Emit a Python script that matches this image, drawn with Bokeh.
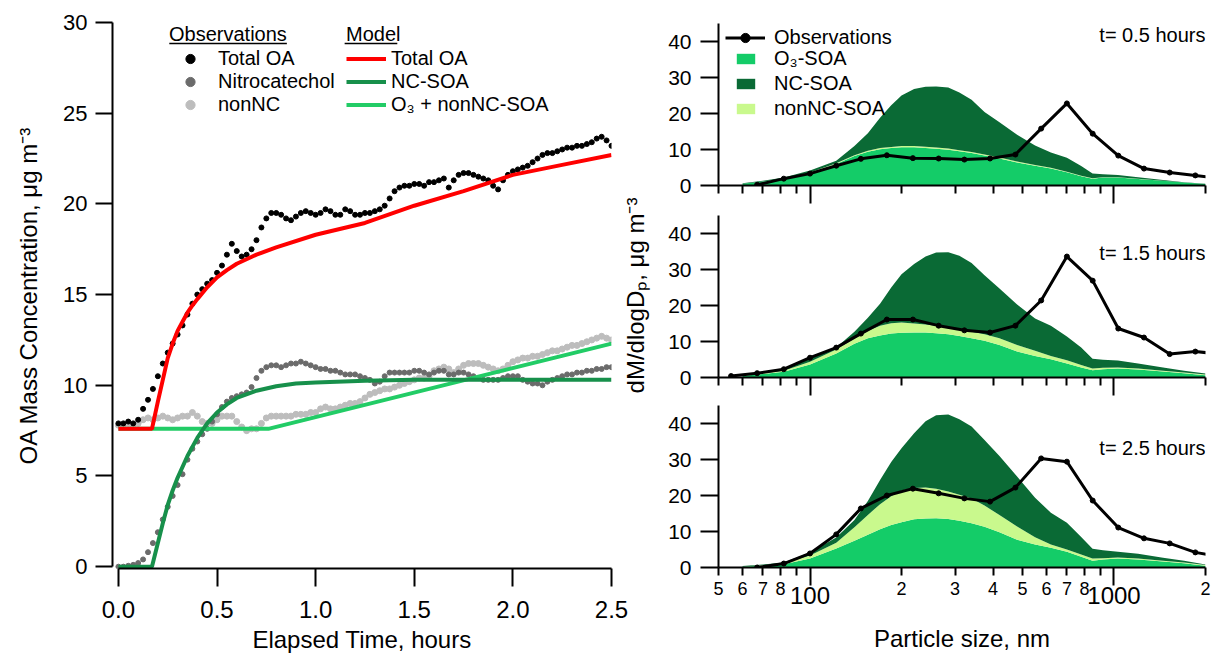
import math
from bokeh.plotting import figure
from bokeh.models import (ColumnDataSource, Range1d, FixedTicker, LogAxis, LinearAxis, Legend,
                          LegendItem, Label, BoxAnnotation, NumeralTickFormatter)
from bokeh.layouts import row, column
from bokeh.embed import file_html
from bokeh.resources import INLINE

FONT = "Liberation Sans"

# ---------------- Left panel: OA time series ----------------
obs_time = [0.000, 0.025, 0.050, 0.075, 0.100, 0.125, 0.150, 0.175, 0.200, 0.225,
            0.250, 0.275, 0.300, 0.325, 0.350, 0.375, 0.400, 0.425, 0.450, 0.475,
            0.500, 0.525, 0.550, 0.575, 0.600, 0.625, 0.650, 0.675, 0.700, 0.725,
            0.750, 0.775, 0.800, 0.825, 0.850, 0.875, 0.900, 0.925, 0.950, 0.975,
            1.000, 1.025, 1.050, 1.075, 1.100, 1.125, 1.150, 1.175, 1.200, 1.225,
            1.250, 1.275, 1.300, 1.325, 1.350, 1.375, 1.400, 1.425, 1.450, 1.475,
            1.500, 1.525, 1.550, 1.575, 1.600, 1.625, 1.650, 1.675, 1.700, 1.725,
            1.750, 1.775, 1.800, 1.825, 1.850, 1.875, 1.900, 1.925, 1.950, 1.975,
            2.000, 2.025, 2.050, 2.075, 2.100, 2.125, 2.150, 2.175, 2.200, 2.225,
            2.250, 2.275, 2.300, 2.325, 2.350, 2.375, 2.400, 2.425, 2.450, 2.475,
            2.500]
obs_total_oa = [7.9, 7.9, 8.0, 7.9, 8.1, 8.7, 9.2, 9.8, 10.5, 11.2,
                11.8, 12.3, 12.8, 13.3, 13.9, 14.5, 15.0, 15.3, 15.6, 15.8,
                16.2, 16.6, 17.2, 17.8, 17.4, 17.1, 17.2, 17.5, 18.0, 18.7,
                19.2, 19.5, 19.5, 19.4, 19.2, 19.1, 19.3, 19.5, 19.6, 19.5,
                19.4, 19.5, 19.7, 19.6, 19.4, 19.4, 19.7, 19.6, 19.4, 19.4,
                19.5, 19.5, 19.6, 19.7, 19.9, 20.3, 20.7, 20.9, 21.0, 21.0,
                21.1, 21.1, 21.0, 21.2, 21.2, 21.3, 21.4, 20.9, 21.3, 21.6,
                21.7, 21.7, 21.6, 21.5, 21.4, 21.3, 21.0, 20.8, 21.3, 21.6,
                21.8, 21.9, 22.0, 22.1, 22.3, 22.5, 22.7, 22.8, 22.8, 22.9,
                23.0, 23.1, 23.1, 23.2, 23.2, 23.3, 23.4, 23.6, 23.7, 23.5,
                23.2]
obs_nitrocatechol = [0.0, 0.0, 0.05, 0.1, 0.2, 0.4, 0.8, 1.3, 1.9, 2.6,
                     3.3, 3.9, 4.5, 5.1, 5.9, 6.5, 6.9, 7.3, 7.6, 8.0,
                     8.4, 8.8, 9.1, 9.3, 9.4, 9.5, 9.6, 9.9, 10.4, 10.8,
                     11.0, 11.1, 11.1, 11.0, 11.1, 11.2, 11.2, 11.3, 11.2, 11.1,
                     11.0, 10.9, 10.9, 10.8, 10.8, 10.7, 10.6, 10.6, 10.6, 10.5,
                     10.4, 10.3, 10.1, 10.2, 10.5, 10.7, 10.7, 10.7, 10.7, 10.7,
                     10.8, 10.8, 10.7, 10.6, 10.7, 10.8, 10.8, 10.6, 10.6, 10.7,
                     10.7, 10.6, 10.5, 10.4, 10.3, 10.3, 10.3, 10.3, 10.4, 10.5,
                     10.5, 10.5, 10.3, 10.2, 10.1, 10.1, 10.0, 10.2, 10.3, 10.4,
                     10.5, 10.6, 10.6, 10.7, 10.7, 10.8, 10.8, 10.9, 10.9, 11.0,
                     11.0]
obs_nonnc = [7.8, 7.8, 7.9, 7.8, 7.9, 8.1, 8.2, 8.1, 8.2, 8.3,
             8.2, 8.1, 8.2, 8.3, 8.3, 8.5, 8.3, 8.0, 7.9, 7.9,
             8.1, 8.3, 8.3, 8.3, 8.0, 7.7, 7.5, 7.6, 7.6, 7.9,
             8.2, 8.3, 8.3, 8.3, 8.3, 8.3, 8.4, 8.4, 8.4, 8.5,
             8.5, 8.7, 8.8, 8.7, 8.7, 8.8, 8.9, 9.0, 9.0, 9.1,
             9.3, 9.5, 9.6, 9.7, 9.8, 9.8, 9.9, 10.0, 10.1, 10.2,
             10.3, 10.4, 10.4, 10.5, 10.8, 10.9, 11.0, 10.9, 10.7, 10.9,
             11.1, 11.2, 11.2, 11.2, 11.1, 11.0, 10.9, 10.8, 10.9, 11.1,
             11.3, 11.4, 11.5, 11.5, 11.6, 11.6, 11.7, 11.8, 11.9, 11.9,
             12.0, 12.1, 12.2, 12.2, 12.3, 12.4, 12.5, 12.6, 12.7, 12.6,
             12.5]

model_total_time = [0, 0.17, 0.2, 0.225, 0.25, 0.275, 0.3, 0.325, 0.35, 0.375, 0.4,
                    0.45, 0.5, 0.55, 0.6, 0.7, 0.8, 1.0, 1.25, 1.5, 1.75, 2.0, 2.25, 2.5]
model_total_oa = [7.6, 7.6, 9.1, 10.3, 11.5, 12.3, 13.0, 13.5, 14.0, 14.4, 14.75,
                  15.4, 15.95, 16.35, 16.7, 17.2, 17.6, 18.3, 18.95, 19.9, 20.7, 21.6, 22.15, 22.7]
model_nc_time = [0, 0.17, 0.2, 0.225, 0.25, 0.275, 0.3, 0.35, 0.4, 0.45, 0.5, 0.55,
                 0.6, 0.7, 0.8, 0.9, 1.0, 1.25, 1.5, 2.0, 2.5]
model_nc_soa = [0, 0, 1.3, 2.4, 3.4, 4.2, 4.9, 6.1, 7.1, 7.9, 8.5, 8.95,
                9.3, 9.7, 9.95, 10.1, 10.15, 10.25, 10.3, 10.3, 10.3]
model_o3_time = [0, 0.76, 2.5]
model_o3_nonnc = [7.6, 7.6, 12.3]

# ---------------- Right panels: size distributions ----------------
model_size = [60, 70, 82, 100, 122, 140, 155, 170, 185, 200, 220, 240, 260, 285, 310,
              340, 375, 420, 480, 550, 620, 700, 780, 850, 920, 1030, 1200, 1450, 1700, 2000]

t05_o3 = [0.5, 1.1, 1.8, 3.5, 6.0, 8.2, 9.4, 10.1, 10.4, 10.6, 10.6, 10.4, 10.2, 9.9, 9.5,
          9.0, 8.3, 7.5, 6.4, 5.5, 4.7, 3.7, 2.6, 1.9, 2.2, 2.2, 1.8, 1.3, 0.8, 0.4]
t05_nonnc = [0.0, 0.0, 0.05, 0.1, 0.15, 0.2, 0.25, 0.3, 0.3, 0.35, 0.35, 0.35, 0.35, 0.35, 0.3,
             0.3, 0.3, 0.25, 0.25, 0.2, 0.2, 0.15, 0.1, 0.1, 0.1, 0.1, 0.08, 0.05, 0.03, 0.02]
t05_nc = [0.1, 0.2, 0.35, 0.6, 0.75, 2.6, 4.85, 8.4, 11.6, 14.05, 15.85, 16.65, 16.95, 16.95, 16.0,
          14.5, 11.8, 9.85, 7.45, 5.4, 4.3, 3.85, 2.7, 1.3, 0.8, 0.6, 0.42, 0.15, 0.07, 0.08]

t15_o3 = [0.5, 1.0, 1.6, 3.6, 6.7, 9.4, 10.9, 11.7, 12.2, 12.4, 12.5, 12.5, 12.3, 12.0, 11.5,
          10.9, 10.2, 9.0, 7.2, 6.0, 5.1, 3.9, 2.8, 2.0, 2.3, 2.5, 2.2, 1.7, 1.2, 0.6]
t15_nonnc = [0.1, 0.2, 0.3, 0.8, 1.1, 1.4, 2.0, 2.7, 2.9, 2.9, 2.5, 2.2, 2.1, 1.8, 1.7,
             1.8, 1.8, 1.9, 1.8, 1.4, 0.9, 0.9, 0.7, 0.5, 0.4, 0.3, 0.3, 0.2, 0.2, 0.2]
t15_nc = [0.2, 0.4, 0.6, 0.9, 0.5, 1.9, 3.7, 6.1, 9.9, 13.4, 16.5, 18.9, 20.3, 21.0, 20.6,
          19.1, 16.4, 13.8, 11.3, 9.0, 8.4, 6.6, 4.8, 2.7, 2.2, 1.9, 1.4, 0.9, 0.5, 0.3]

t25_o3 = [0.3, 0.5, 0.9, 2.5, 5.3, 7.4, 9.1, 10.6, 11.8, 12.6, 13.4, 13.6, 13.7, 13.5, 13.0,
          12.3, 11.3, 9.8, 7.7, 6.4, 5.5, 4.4, 3.0, 1.9, 2.2, 2.5, 2.2, 1.7, 1.2, 0.5]
t25_nonnc = [0.0, 0.1, 0.2, 0.8, 1.6, 3.8, 5.5, 7.0, 8.0, 8.8, 8.7, 8.6, 8.2, 7.6, 7.2,
             6.9, 5.9, 4.8, 3.7, 2.0, 0.9, 0.6, 0.6, 0.6, 0.4, 0.3, 0.3, 0.2, 0.2, 0.2]
t25_nc = [0.1, 0.2, 0.3, 0.9, 1.4, 2.0, 3.9, 6.7, 9.5, 11.7, 15.2, 18.4, 20.4, 21.4, 21.0,
          20.0, 18.2, 16.4, 13.9, 11.0, 8.8, 7.4, 4.9, 2.7, 2.2, 1.6, 1.3, 0.8, 0.5, 0.1]

obs_size_t05 = [67, 82, 100, 122, 147, 179, 218, 265, 322, 391, 474, 576, 700, 851, 1033, 1255, 1525, 1852, 2250]
obs_t05 = [0.2, 1.9, 3.3, 5.5, 7.4, 8.4, 7.6, 7.5, 7.2, 7.5, 8.6, 15.8, 22.8, 14.4, 8.3, 4.7, 3.6, 2.8, 1.9]
obs_size_t15 = [55, 67, 82, 100, 122, 147, 179, 218, 265, 322, 391, 474, 576, 700, 851, 1033, 1255, 1525, 1852, 2250]
obs_t15 = [0.4, 1.2, 2.3, 5.5, 8.3, 12.2, 16.1, 16.1, 14.4, 13.1, 12.5, 14.4, 21.4, 33.6, 26.9, 13.6, 11.1, 6.5, 7.2, 6.5]
obs_size_t25 = [67, 82, 100, 122, 147, 179, 218, 265, 322, 391, 474, 576, 700, 851, 1033, 1255, 1525, 1852, 2250]
obs_t25 = [0.0, 1.1, 3.9, 9.2, 16.4, 20.0, 21.9, 20.6, 19.2, 18.3, 22.2, 30.3, 29.4, 18.6, 11.1, 8.1, 6.7, 4.2, 3.0]

# tick layout of the log axis
size_short_ticks = [50, 60, 70, 80, 90, 200, 300, 400, 500, 600, 700, 800, 900, 2000]
size_small_label_ticks = [50, 60, 70, 80, 200, 300, 400, 500, 600, 700, 800, 2000]
size_small_labels = ["5", "6", "7", "8", "2", "3", "4", "5", "6", "7", "8", "2"]
size_decade_ticks = [100, 1000]
size_decade_labels = ["100", "1000"]
time_labels = ["t= 0.5 hours", "t= 1.5 hours", "t= 2.5 hours"]

# ---------------- colours ----------------
C_RED = "#ff0000"
C_NCLINE = "#17904b"
C_O3LINE = "#22cc66"
C_O3 = "#14cc68"
C_NONNC = "#c9f98d"
C_NC = "#0a6a35"


def style_axis(ax, tick_out, label_size, standoff):
    ax.axis_line_color = "black"
    ax.axis_line_width = 2
    ax.major_tick_line_color = "black"
    ax.major_tick_line_width = 2
    ax.minor_tick_line_color = "black"
    ax.minor_tick_line_width = 2
    ax.major_tick_out = tick_out
    ax.major_tick_in = 0
    ax.minor_tick_in = 0
    ax.minor_tick_out = 0
    ax.major_label_text_font = FONT
    ax.major_label_text_font_size = label_size
    ax.major_label_text_color = "black"
    ax.major_label_standoff = standoff
    ax.axis_label_text_font = FONT
    ax.axis_label_text_font_style = "normal"
    ax.axis_label_text_color = "black"


def style_legend(leg):
    leg.background_fill_alpha = 0
    leg.border_line_alpha = 0
    leg.padding = 0
    leg.margin = 0
    leg.label_text_font = FONT
    leg.label_text_font_size = "20px"
    leg.label_text_color = "black"
    leg.title_text_font = FONT
    leg.title_text_font_size = "20px"
    leg.title_text_font_style = "normal"
    leg.title_text_color = "black"


# ================= LEFT FIGURE =================
LEFT_W = 665
left = figure(width=LEFT_W, height=655, x_range=Range1d(-0.03, 2.5), y_range=Range1d(-0.1, 30),
              output_backend="svg", toolbar_location=None,
              min_border_left=112, min_border_right=LEFT_W - 613, min_border_top=22, min_border_bottom=87)
left.grid.visible = False
left.outline_line_color = None
left.background_fill_color = "white"
left.border_fill_color = "white"

xa = left.xaxis[0]
style_axis(xa, 18, "24px", 14)
xa.ticker = FixedTicker(ticks=[0, 0.5, 1.0, 1.5, 2.0, 2.5], minor_ticks=[])
xa.formatter = NumeralTickFormatter(format="0.0")
xa.bounds = (0, 2.5)
xa.axis_label = "Elapsed Time, hours"
xa.axis_label_text_font_size = "24px"
xa.axis_label_standoff = 5

ya = left.yaxis[0]
style_axis(ya, 17, "22px", 8)
ya.ticker = FixedTicker(ticks=[0, 5, 10, 15, 20, 25, 30], minor_ticks=[])
ya.bounds = (0, 30)
ya.axis_label = "OA Mass Concentration, μg m⁻³"
ya.axis_label_text_font_size = "24px"
ya.axis_label_standoff = 18

src_obs = ColumnDataSource(dict(t=obs_time, tot=obs_total_oa, nc=obs_nitrocatechol, non=obs_nonnc))
r_non = left.scatter("t", "non", source=src_obs, size=6, color="#bdbdbd")
r_ncat = left.scatter("t", "nc", source=src_obs, size=5, color="#6b6b6b")
r_tot = left.scatter("t", "tot", source=src_obs, size=5, color="black")

r_m_o3 = left.line(model_o3_time, model_o3_nonnc, line_color=C_O3LINE, line_width=4)
r_m_nc = left.line(model_nc_time, model_nc_soa, line_color=C_NCLINE, line_width=4)
r_m_tot = left.line(model_total_time, model_total_oa, line_color=C_RED, line_width=4)

obs_leg = Legend(items=[LegendItem(label="Total OA", renderers=[r_tot]),
                        LegendItem(label="Nitrocatechol", renderers=[r_ncat]),
                        LegendItem(label="nonNC", renderers=[r_non])],
                 title="Observations", location=(57, 452))
style_legend(obs_leg)
obs_leg.glyph_width = 42
obs_leg.glyph_height = 23
obs_leg.label_height = 23
obs_leg.label_standoff = 7
obs_leg.spacing = 0
obs_leg.title_standoff = 1
left.add_layout(obs_leg)

mod_leg = Legend(items=[LegendItem(label="Total OA", renderers=[r_m_tot]),
                        LegendItem(label="NC-SOA", renderers=[r_m_nc]),
                        LegendItem(label="O₃ + nonNC-SOA", renderers=[r_m_o3])],
                 title="Model", location=(234, 452))
style_legend(mod_leg)
mod_leg.glyph_width = 40
mod_leg.glyph_height = 23
mod_leg.label_height = 23
mod_leg.label_standoff = 5
mod_leg.spacing = 0
mod_leg.title_standoff = 1
left.add_layout(mod_leg)

# underlines of the two legend headers
left.add_layout(BoxAnnotation(left=0.258, right=0.854, bottom=28.80, top=28.88,
                              fill_color="black", fill_alpha=1, line_alpha=0))
left.add_layout(BoxAnnotation(left=1.147, right=1.414, bottom=28.80, top=28.88,
                              fill_color="black", fill_alpha=1, line_alpha=0))

# y-axis title of the right-hand column, drawn in the right border as a rotated label
rlab = LinearAxis(ticker=FixedTicker(ticks=[9.55], minor_ticks=[]))
style_axis(rlab, 0, "24px", 24)
rlab.axis_line_color = None
rlab.major_tick_line_color = None
rlab.minor_tick_line_color = None
rlab.major_label_overrides = {9.55: "dM/dlogDₚ, μg m⁻³"}
rlab.major_label_orientation = math.pi / 2
left.add_layout(rlab, "right")


# ================= RIGHT FIGURES =================
RIGHT_W = 1212 - LEFT_W


def size_fig(height, top, bottom, o3, nonnc, nc, osz, ov, tlabel, ty, bottom_panel):
    p = figure(width=RIGHT_W, height=height, x_axis_type="log", x_range=Range1d(50, 2000),
               y_range=Range1d(0, 45), output_backend="svg", toolbar_location=None,
               min_border_left=716 - LEFT_W, min_border_right=7, min_border_top=top,
               min_border_bottom=bottom)
    p.grid.visible = False
    p.outline_line_color = None
    p.background_fill_color = "white"
    p.border_fill_color = "white"

    yax = p.yaxis[0]
    style_axis(yax, 18, "21px", 9)
    yax.ticker = FixedTicker(ticks=[0, 10, 20, 30, 40], minor_ticks=[])

    xax = p.xaxis[0]
    style_axis(xax, 18, "24px" if bottom_panel else "0px", 1 if bottom_panel else 0)
    xax.ticker = FixedTicker(ticks=size_decade_ticks, minor_ticks=size_short_ticks)
    xax.minor_tick_out = 8
    if bottom_panel:
        xax.major_label_overrides = {t: l for t, l in zip(size_decade_ticks, size_decade_labels)}
    else:
        xax.major_label_text_color = None

    src = ColumnDataSource(dict(d=model_size, o3=o3, nonnc=nonnc, nc=nc))
    areas = p.varea_stack(stackers=["o3", "nonnc", "nc"], x="d", color=[C_O3, C_NONNC, C_NC], source=src)

    osrc = ColumnDataSource(dict(d=osz, v=ov))
    rl = p.line("d", "v", source=osrc, line_color="black", line_width=3)
    rs = p.scatter("d", "v", source=osrc, size=5, color="black")

    p.add_layout(Label(x=2000, y=ty, text=tlabel, text_align="right", text_baseline="middle",
                       text_font=FONT, text_font_size="20px", text_color="black"))
    return p, areas, rl, rs


f1, a1, l1, s1 = size_fig(207, 23, 22, t05_o3, t05_nonnc, t05_nc, obs_size_t05, obs_t05,
                          time_labels[0], 41.7, False)
f2, a2, l2, s2 = size_fig(192, 8, 22, t15_o3, t15_nonnc, t15_nc, obs_size_t15, obs_t15,
                          time_labels[1], 34.7, False)
f3, a3, l3, s3 = size_fig(256, 6, 88, t25_o3, t25_nonnc, t25_nc, obs_size_t25, obs_t25,
                          time_labels[2], 33.3, True)

ax2 = LogAxis(ticker=FixedTicker(ticks=size_small_label_ticks, minor_ticks=[]))
style_axis(ax2, 0, "18px", -25)
ax2.axis_line_color = None
ax2.major_tick_line_color = None
ax2.minor_tick_line_color = None
ax2.major_label_overrides = {t: l for t, l in zip(size_small_label_ticks, size_small_labels)}
ax2.axis_label = "Particle size, nm"
ax2.axis_label_text_font_size = "24px"
ax2.axis_label_standoff = 27
f3.add_layout(ax2, "below")

legA = Legend(items=[LegendItem(label="Observations", renderers=[l1, s1])], location=(7, 136))
style_legend(legA)
legA.glyph_width = 40
legA.glyph_height = 23
legA.label_height = 23
legA.label_standoff = 9
legA.spacing = 0
f1.add_layout(legA)

legB = Legend(items=[LegendItem(label="O₃-SOA", renderers=[a1[0]]),
                     LegendItem(label="NC-SOA", renderers=[a1[2]]),
                     LegendItem(label="nonNC-SOA", renderers=[a1[1]])], location=(16, 64))
style_legend(legB)
legB.glyph_width = 23
legB.glyph_height = 13
legB.label_height = 25
legB.label_standoff = 17
legB.spacing = 0
f1.add_layout(legB)

layout = row(left, column(f1, f2, f3))
open("out.html", "w").write(file_html(layout, INLINE))
